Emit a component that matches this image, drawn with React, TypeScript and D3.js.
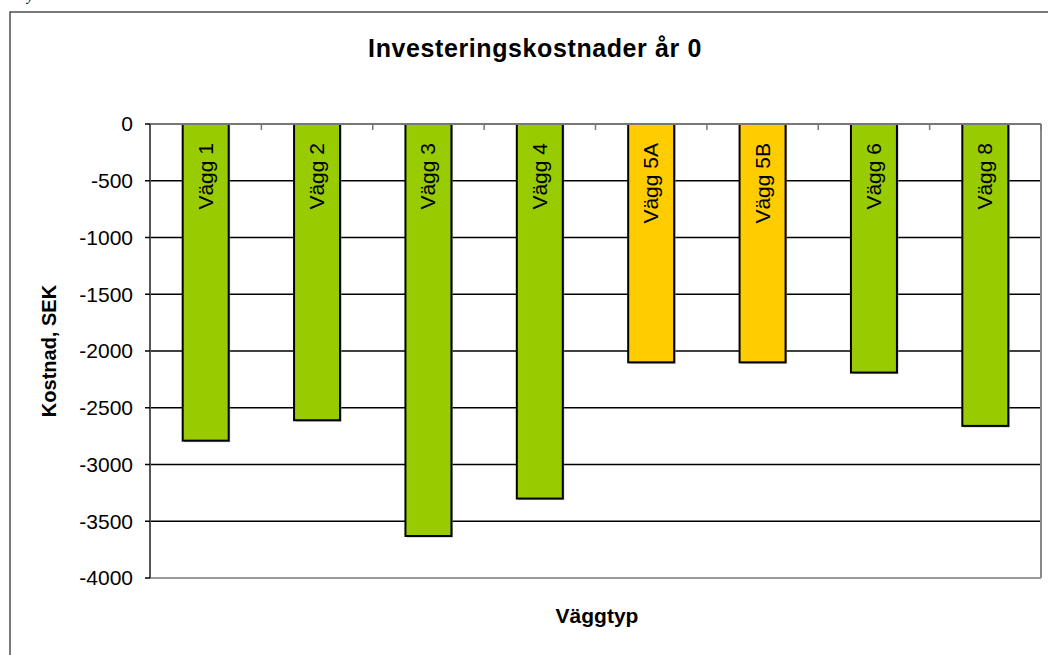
import React from "react";
import * as d3 from "d3";

const categories = ["Vägg 1", "Vägg 2", "Vägg 3", "Vägg 4", "Vägg 5A", "Vägg 5B", "Vägg 6", "Vägg 8"];
const values = [-2790, -2610, -3630, -3300, -2100, -2100, -2190, -2660];
const barColors = ["#99CC00", "#99CC00", "#99CC00", "#99CC00", "#FFCC00", "#FFCC00", "#99CC00", "#99CC00"];
const yTicks = [0, -500, -1000, -1500, -2000, -2500, -3000, -3500, -4000];
const title = "Investeringskostnader år 0";
const yTitle = "Kostnad, SEK";
const xTitle = "Väggtyp";

const W = 1048;
const H = 655;
const plot = { left: 150, right: 1041, top: 124, bottom: 578 };

export default function App() {
  const x = d3
    .scaleBand<string>()
    .domain(categories)
    .range([plot.left, plot.right])
    .paddingInner(0.587)
    .paddingOuter(0.2935);
  const y = d3.scaleLinear().domain([0, -4000]).range([plot.top, plot.bottom]);
  const font = "Liberation Sans, Arial, sans-serif";
  const boundaries = d3.range(categories.length + 1).map((i) => plot.left + (i * (plot.right - plot.left)) / categories.length);

  return (
    <svg
      width={W}
      height={H}
      style={{ position: "absolute", left: 0, top: 0, background: "#fff" }}
      fontFamily={font}
    >
      <rect x={0} y={0} width={W} height={H} fill="#fff" />
      <text x={27} y={1} fontSize={14} fontStyle="italic" fontFamily="serif">y</text>
      <rect x={10} y={12} width={W + 20} height={H + 20} fill="none" stroke="#222" strokeWidth={1.2} />
      <text x={535} y={57} textAnchor="middle" fontSize={25} fontWeight="bold" letterSpacing={0.6}>{title}</text>

      {/* gridlines */}
      {yTicks.filter((t) => t !== 0 && t !== -4000).map((t) => (
        <line key={t} x1={plot.left} x2={plot.right} y1={y(t)} y2={y(t)} stroke="#000" strokeWidth={1.5} />
      ))}
      {/* plot area border right/bottom */}
      <line x1={plot.right} x2={plot.right} y1={plot.top} y2={plot.bottom} stroke="#888" strokeWidth={2} />
      <line x1={plot.left} x2={plot.right} y1={plot.bottom} y2={plot.bottom} stroke="#999" strokeWidth={2} />

      {/* bars */}
      {categories.map((c, i) => {
        const bx = x(c)!;
        const bw = x.bandwidth();
        const y0 = y(0);
        const y1 = y(values[i]);
        return (
          <g key={c}>
            <rect x={bx + 1.5} y={y0 + 1.5} width={bw} height={y1 - y0} fill="#999" opacity={0.7} />
            <rect x={bx} y={y0} width={bw} height={y1 - y0} fill={barColors[i]} stroke="#000" strokeWidth={2} />
            <text
              transform={`translate(${bx + bw / 2 + 7},${y0 + 19}) rotate(-90)`}
              textAnchor="end"
              fontSize={21}
            >
              {c}
            </text>
          </g>
        );
      })}

      {/* x axis at 0 */}
      <line x1={plot.left} x2={plot.right} y1={y(0)} y2={y(0)} stroke="#777" strokeWidth={2} />
      {boundaries.map((b, i) => (
        <line key={i} x1={b} x2={b} y1={y(0)} y2={y(0) + 6} stroke="#777" strokeWidth={1.5} />
      ))}

      {/* y axis */}
      <line x1={plot.left} x2={plot.left} y1={plot.top} y2={plot.bottom} stroke="#555" strokeWidth={2} />
      {yTicks.map((t) => (
        <g key={t}>
          <line x1={plot.left - 5} x2={plot.left} y1={y(t)} y2={y(t)} stroke="#000" strokeWidth={1.5} />
          <text x={plot.left - 17} y={y(t)} dy="0.35em" textAnchor="end" fontSize={21}>
            {t}
          </text>
        </g>
      ))}

      <text
        transform={`translate(56,${(plot.top + plot.bottom) / 2}) rotate(-90)`}
        textAnchor="middle"
        fontSize={20}
        fontWeight="bold"
      >
        {yTitle}
      </text>
      <text x={597} y={623} textAnchor="middle" fontSize={21} fontWeight="bold">{xTitle}</text>
    </svg>
  );
}
